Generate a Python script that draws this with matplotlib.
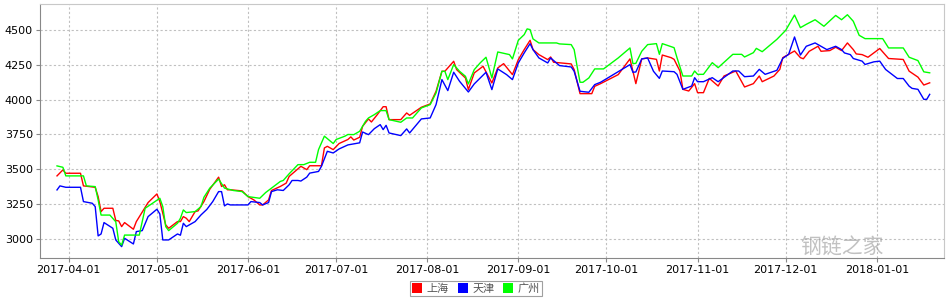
import matplotlib
matplotlib.use('Agg')
import matplotlib.pyplot as plt
import matplotlib.dates as mdates
from matplotlib.patches import Patch
import pandas as pd

plt.rcParams['font.family'] = ['DejaVu Sans', 'Noto Sans CJK SC']

# 上海
sh_dates = ['2017-03-28', '2017-03-30', '2017-03-31', '2017-04-05', '2017-04-06', '2017-04-10', '2017-04-11',
            '2017-04-12', '2017-04-13', '2017-04-16', '2017-04-17', '2017-04-18', '2017-04-19', '2017-04-20',
            '2017-04-23', '2017-04-24', '2017-04-28', '2017-05-01', '2017-05-02', '2017-05-04', '2017-05-05',
            '2017-05-08', '2017-05-09', '2017-05-10', '2017-05-11', '2017-05-12', '2017-05-14', '2017-05-15',
            '2017-05-17', '2017-05-19', '2017-05-22', '2017-05-23', '2017-05-24', '2017-05-25', '2017-05-26',
            '2017-05-30', '2017-06-01', '2017-06-03', '2017-06-05', '2017-06-06', '2017-06-08', '2017-06-09',
            '2017-06-12', '2017-06-14', '2017-06-15', '2017-06-19', '2017-06-21', '2017-06-22', '2017-06-26',
            '2017-06-27', '2017-06-28', '2017-06-30', '2017-07-02', '2017-07-05', '2017-07-06', '2017-07-07',
            '2017-07-09', '2017-07-10', '2017-07-12', '2017-07-13', '2017-07-15', '2017-07-17', '2017-07-18',
            '2017-07-19', '2017-07-23', '2017-07-25', '2017-07-26', '2017-07-30', '2017-08-02', '2017-08-04',
            '2017-08-06', '2017-08-07', '2017-08-10', '2017-08-11', '2017-08-14', '2017-08-15', '2017-08-17',
            '2017-08-20', '2017-08-23', '2017-08-25', '2017-08-27', '2017-08-30', '2017-09-01', '2017-09-03',
            '2017-09-05', '2017-09-06', '2017-09-08', '2017-09-11', '2017-09-12', '2017-09-13', '2017-09-19',
            '2017-09-20', '2017-09-22', '2017-09-26', '2017-09-27', '2017-09-29', '2017-10-05', '2017-10-09',
            '2017-10-11', '2017-10-13', '2017-10-15', '2017-10-18', '2017-10-19', '2017-10-20', '2017-10-23',
            '2017-10-24', '2017-10-26', '2017-10-27', '2017-10-29', '2017-10-31', '2017-11-01', '2017-11-03',
            '2017-11-05', '2017-11-08', '2017-11-10', '2017-11-14', '2017-11-17', '2017-11-20', '2017-11-22',
            '2017-11-23', '2017-11-27', '2017-11-29', '2017-11-30', '2017-12-04', '2017-12-06', '2017-12-07',
            '2017-12-09', '2017-12-12', '2017-12-13', '2017-12-16', '2017-12-18', '2017-12-20', '2017-12-22',
            '2017-12-24', '2017-12-25', '2017-12-27', '2017-12-29', '2018-01-02', '2018-01-03', '2018-01-05',
            '2018-01-10', '2018-01-12', '2018-01-15', '2018-01-17', '2018-01-19']
sh_vals = [3452, 3495, 3471, 3471, 3380, 3370, 3303,
           3195, 3219, 3219, 3131, 3128, 3087, 3116,
           3068, 3123, 3260, 3322, 3267, 3099, 3075,
           3123, 3123, 3159, 3147, 3123, 3195, 3200,
           3267, 3356, 3443, 3376, 3388, 3352, 3352,
           3344, 3303, 3279, 3243, 3243, 3279, 3347,
           3376, 3400, 3448, 3521, 3497, 3525, 3525,
           3653, 3665, 3641, 3685, 3714, 3733, 3710,
           3730, 3809, 3862, 3840, 3893, 3950, 3950,
           3857, 3857, 3905, 3888, 3946, 3970, 4061,
           4205, 4205, 4277, 4217, 4157, 4073, 4193,
           4241, 4121, 4229, 4260, 4181, 4289, 4361,
           4428, 4361, 4325, 4289, 4308, 4270, 4258,
           4217, 4044, 4044, 4097, 4116, 4181, 4294,
           4116, 4294, 4301, 4291, 4207, 4322, 4303,
           4291, 4207, 4075, 4063, 4116, 4051, 4051,
           4154, 4099, 4171, 4207, 4092, 4116, 4171,
           4130, 4171, 4219, 4303, 4351, 4303, 4295,
           4349, 4385, 4349, 4354, 4378, 4354, 4409,
           4361, 4330, 4325, 4306, 4369, 4345, 4297,
           4290, 4206, 4163, 4106, 4122]

# 天津
tj_dates = ['2017-03-28', '2017-03-29', '2017-03-31', '2017-04-05', '2017-04-06', '2017-04-09', '2017-04-10',
            '2017-04-11', '2017-04-12', '2017-04-13', '2017-04-16', '2017-04-17', '2017-04-18', '2017-04-19',
            '2017-04-20', '2017-04-23', '2017-04-24', '2017-04-26', '2017-04-28', '2017-05-01', '2017-05-02',
            '2017-05-03', '2017-05-05', '2017-05-08', '2017-05-09', '2017-05-10', '2017-05-11', '2017-05-14',
            '2017-05-16', '2017-05-18', '2017-05-20', '2017-05-22', '2017-05-23', '2017-05-24', '2017-05-25',
            '2017-05-26', '2017-06-01', '2017-06-02', '2017-06-05', '2017-06-06', '2017-06-08', '2017-06-09',
            '2017-06-11', '2017-06-13', '2017-06-15', '2017-06-16', '2017-06-18', '2017-06-19', '2017-06-21',
            '2017-06-22', '2017-06-25', '2017-06-26', '2017-06-28', '2017-06-30', '2017-07-02', '2017-07-05',
            '2017-07-09', '2017-07-10', '2017-07-12', '2017-07-14', '2017-07-16', '2017-07-17', '2017-07-18',
            '2017-07-19', '2017-07-23', '2017-07-25', '2017-07-26', '2017-07-30', '2017-08-02', '2017-08-04',
            '2017-08-06', '2017-08-08', '2017-08-10', '2017-08-12', '2017-08-15', '2017-08-17', '2017-08-21',
            '2017-08-23', '2017-08-25', '2017-08-28', '2017-08-30', '2017-09-01', '2017-09-03', '2017-09-05',
            '2017-09-06', '2017-09-08', '2017-09-11', '2017-09-12', '2017-09-15', '2017-09-19', '2017-09-20',
            '2017-09-22', '2017-09-25', '2017-09-27', '2017-09-29', '2017-10-09', '2017-10-10', '2017-10-11',
            '2017-10-13', '2017-10-15', '2017-10-17', '2017-10-19', '2017-10-20', '2017-10-24', '2017-10-25',
            '2017-10-27', '2017-10-30', '2017-10-31', '2017-11-01', '2017-11-03', '2017-11-06', '2017-11-08',
            '2017-11-13', '2017-11-15', '2017-11-17', '2017-11-20', '2017-11-22', '2017-11-24', '2017-11-28',
            '2017-11-30', '2017-12-02', '2017-12-04', '2017-12-06', '2017-12-08', '2017-12-11', '2017-12-15',
            '2017-12-18', '2017-12-20', '2017-12-21', '2017-12-23', '2017-12-24', '2017-12-27', '2017-12-28',
            '2017-12-31', '2018-01-02', '2018-01-04', '2018-01-08', '2018-01-10', '2018-01-12', '2018-01-13',
            '2018-01-15', '2018-01-17', '2018-01-18', '2018-01-19']
tj_vals = [3351, 3380, 3370, 3370, 3267, 3255, 3231,
           3020, 3034, 3116, 3075, 2991, 2967, 2943,
           3003, 2962, 3051, 3058, 3159, 3212, 3178,
           2991, 2991, 3034, 3025, 3111, 3087, 3123,
           3171, 3211, 3267, 3339, 3339, 3236, 3250,
           3243, 3243, 3267, 3260, 3243, 3260, 3339,
           3352, 3347, 3388, 3419, 3419, 3415, 3443,
           3472, 3484, 3521, 3629, 3617, 3646, 3675,
           3690, 3768, 3749, 3792, 3821, 3785, 3816,
           3761, 3742, 3790, 3761, 3862, 3869, 3965,
           4145, 4066, 4198, 4133, 4056, 4114, 4198,
           4073, 4222, 4181, 4145, 4265, 4337, 4404,
           4361, 4301, 4265, 4301, 4246, 4236, 4205,
           4061, 4054, 4109, 4126, 4253, 4198, 4200,
           4294, 4301, 4205, 4154, 4207, 4202, 4183,
           4075, 4099, 4159, 4130, 4130, 4159, 4130,
           4207, 4207, 4166, 4171, 4219, 4183, 4212,
           4298, 4327, 4452, 4322, 4385, 4409, 4361,
           4385, 4361, 4337, 4325, 4297, 4278, 4254,
           4273, 4278, 4218, 4153, 4153, 4098, 4082,
           4075, 4003, 4003, 4039]

# 广州
gz_dates = ['2017-03-28', '2017-03-30', '2017-03-31', '2017-04-06', '2017-04-07', '2017-04-10', '2017-04-11',
            '2017-04-12', '2017-04-15', '2017-04-17', '2017-04-18', '2017-04-19', '2017-04-20', '2017-04-25',
            '2017-04-27', '2017-05-02', '2017-05-03', '2017-05-04', '2017-05-05', '2017-05-08', '2017-05-09',
            '2017-05-10', '2017-05-11', '2017-05-14', '2017-05-16', '2017-05-17', '2017-05-19', '2017-05-22',
            '2017-05-24', '2017-05-27', '2017-05-30', '2017-06-01', '2017-06-05', '2017-06-07', '2017-06-09',
            '2017-06-12', '2017-06-13', '2017-06-15', '2017-06-18', '2017-06-20', '2017-06-22', '2017-06-24',
            '2017-06-25', '2017-06-27', '2017-06-30', '2017-07-01', '2017-07-04', '2017-07-05', '2017-07-07',
            '2017-07-09', '2017-07-11', '2017-07-12', '2017-07-14', '2017-07-16', '2017-07-18', '2017-07-19',
            '2017-07-23', '2017-07-25', '2017-07-27', '2017-07-30', '2017-08-02', '2017-08-04', '2017-08-06',
            '2017-08-07', '2017-08-08', '2017-08-10', '2017-08-12', '2017-08-14', '2017-08-15', '2017-08-17',
            '2017-08-19', '2017-08-21', '2017-08-23', '2017-08-25', '2017-08-29', '2017-08-30', '2017-09-01',
            '2017-09-03', '2017-09-04', '2017-09-05', '2017-09-06', '2017-09-08', '2017-09-14', '2017-09-15',
            '2017-09-19', '2017-09-20', '2017-09-21', '2017-09-22', '2017-09-23', '2017-09-25', '2017-09-27',
            '2017-09-30', '2017-10-05', '2017-10-09', '2017-10-10', '2017-10-11', '2017-10-13', '2017-10-15',
            '2017-10-18', '2017-10-19', '2017-10-20', '2017-10-24', '2017-10-25', '2017-10-27', '2017-10-30',
            '2017-10-31', '2017-11-01', '2017-11-03', '2017-11-06', '2017-11-08', '2017-11-13', '2017-11-16',
            '2017-11-17', '2017-11-20', '2017-11-21', '2017-11-23', '2017-11-28', '2017-12-01', '2017-12-04',
            '2017-12-06', '2017-12-08', '2017-12-11', '2017-12-14', '2017-12-18', '2017-12-20', '2017-12-22',
            '2017-12-24', '2017-12-26', '2017-12-28', '2018-01-03', '2018-01-05', '2018-01-10', '2018-01-12',
            '2018-01-15', '2018-01-17', '2018-01-19']
gz_vals = [3524, 3514, 3452, 3452, 3380, 3375, 3279,
           3170, 3170, 3122, 2978, 2954, 3026, 3026,
           3219, 3291, 3231, 3087, 3058, 3111, 3147,
           3207, 3188, 3195, 3231, 3298, 3364, 3429,
           3364, 3347, 3339, 3303, 3291, 3332, 3364,
           3412, 3419, 3467, 3533, 3533, 3550, 3550,
           3641, 3738, 3685, 3714, 3738, 3750, 3749,
           3773, 3845, 3869, 3893, 3922, 3922, 3857,
           3838, 3869, 3869, 3941, 3965, 4049, 4205,
           4205, 4145, 4253, 4205, 4169, 4114, 4217,
           4265, 4306, 4157, 4344, 4325, 4294, 4428,
           4469, 4510, 4505, 4438, 4409, 4409, 4402,
           4397, 4361, 4241, 4126, 4126, 4157, 4222,
           4222, 4301, 4373, 4260, 4262, 4349, 4397,
           4404, 4327, 4404, 4375, 4303, 4171, 4171,
           4207, 4183, 4183, 4267, 4231, 4327, 4327,
           4308, 4339, 4370, 4346, 4435, 4500, 4610,
           4519, 4543, 4576, 4529, 4607, 4576, 4612,
           4565, 4464, 4440, 4440, 4373, 4373, 4306,
           4282, 4201, 4194]

series = [('上海', sh_dates, sh_vals, '#ff0000'),
          ('天津', tj_dates, tj_vals, '#0000ff'),
          ('广州', gz_dates, gz_vals, '#00ff00')]

fig = plt.figure(figsize=(9.52, 3.0), dpi=100)
ax = fig.add_axes([0.042, 0.14, 0.950, 0.847])

for name, d, v, c in series:
    ax.plot(pd.to_datetime(d), v, color=c, lw=1.0, label=name)

ax.set_ylim(2861, 4690)
ax.set_yticks([3000, 3250, 3500, 3750, 4000, 4250, 4500])
ax.set_xlim(pd.Timestamp('2017-03-22 05:00'), pd.Timestamp('2018-01-24'))
ax.xaxis.set_major_locator(mdates.MonthLocator())
ax.xaxis.set_major_formatter(mdates.DateFormatter('%Y-%m-%d'))

ax.grid(True, color='#c0c0c0', linestyle=(0, (2, 2)), lw=0.8)
ax.set_axisbelow(True)
for s in ['left', 'bottom']:
    ax.spines[s].set_color('#888888')
for s in ['top', 'right']:
    ax.spines[s].set_color('#c8c8c8')
ax.tick_params(axis='both', labelsize=8, length=3, color='#888888', pad=2)

# watermark, kept just above the date labels
fig.text(0.885, 0.175, '钢链之家', fontsize=15, color='#999999', alpha=0.6,
         family=['Noto Sans CJK SC', 'DejaVu Sans'], ha='center', va='center')

handles = [Patch(facecolor=c, edgecolor='none', label=n) for n, d, v, c in series]
leg = fig.legend(handles=handles, loc='center', bbox_to_anchor=(0.5, 0.038), ncol=3,
                 prop={'family': 'Noto Sans CJK SC', 'size': 8}, frameon=True, fancybox=False,
                 handlelength=0.9, handleheight=0.9, handletextpad=0.4, columnspacing=0.8,
                 borderpad=0.2, labelcolor='#555555')
leg.get_frame().set_edgecolor('#888888')
leg.get_frame().set_linewidth(0.8)

fig.savefig('out.png', dpi=100)
